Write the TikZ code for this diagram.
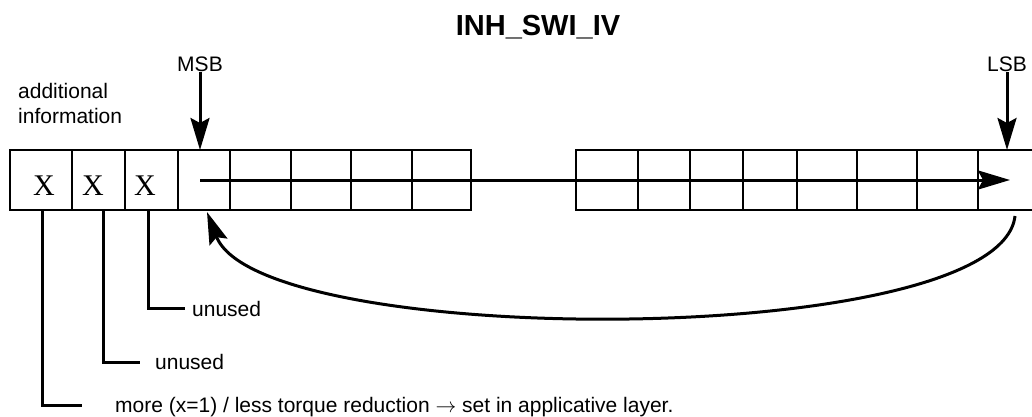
\documentclass[tikz,border=0pt]{standalone}
\usepackage{fontspec}
\setmainfont{Liberation Sans}
\newfontfamily\serifx{Liberation Serif}
\usetikzlibrary{arrows.meta}
\begin{document}
\begin{tikzpicture}[x=1pt,y=-1pt,
  cell/.style={draw, line width=2.5pt, minimum height=60pt, inner sep=0pt, outer sep=0pt},
  lbl/.style={font=\fontsize{21}{26}\selectfont, inner sep=0pt},
  xl/.style={font=\serifx\fontsize{30}{30}\selectfont, inner sep=0pt},
  arr/.style={line width=3pt, -{Stealth[length=32pt,width=19pt,inset=5pt]}},
  lead/.style={line width=3pt}]
\useasboundingbox (0,0) rectangle (1032,417);

% title
\node[font=\bfseries\fontsize{29}{30}\selectfont, inner sep=0pt, anchor=base] (title) at (538,36) {INH\_SWI\_IV};

% left group of cells
\foreach \a/\b [count=\i] in {10/72,72/125,125/178,178/230,230/291,291/351,351/412,412/471}{
  \pgfmathsetmacro{\w}{\b-\a}
  \pgfmathsetmacro{\m}{(\a+\b)/2}
  \node[cell, minimum width=\w pt] (c\i) at (\m,180) {};
}
% right group of cells
\foreach \a/\b [count=\i] in {576/638,638/690,690/743,743/797,797/857,857/917,917/978}{
  \pgfmathsetmacro{\w}{\b-\a}
  \pgfmathsetmacro{\m}{(\a+\b)/2}
  \node[cell, minimum width=\w pt] (d\i) at (\m,180) {};
}
\node[minimum width=54pt, minimum height=60pt, inner sep=0pt, outer sep=0pt] (last) at (1005,180) {};
\draw[line width=2.5pt] (last.north west) -- (last.north east) (last.south west) -- (last.south east);

% X marks
\node[xl, anchor=base] (x1) at (44,195) {X};
\node[xl, anchor=base] (x2) at (93,195) {X};
\node[xl, anchor=base] (x3) at (145,195) {X};

% labels
\node[lbl, anchor=base west] (add1) at (18,99) {additional};
\node[lbl, anchor=base west] (add2) at (18,124) {information};
\node[lbl, anchor=base] (msb) at (200,72) {MSB};
\node[lbl, anchor=base] (lsb) at (1007,72) {LSB};

% MSB / LSB arrows
\draw[arr] (msb.south) -- (msb.south |- c4.north);
\draw[arr] (lsb.south) -- (lsb.south |- last.north);

% horizontal arrow
\coordinate (hs) at (200,180);
\coordinate (he) at (1010,180);
\draw[arr] (hs) -- (he);

% return curve
\coordinate (cs) at (1015,216);
\coordinate (ce) at (207,212);
\draw[arr] (cs) .. controls (1000,350) and (260,350) .. (ce);

% leaders and texts
\node[lbl, anchor=base west] (t3) at (192,316) {unused};
\node[lbl, anchor=base west] (t2) at (155,369) {unused};
\node[lbl, anchor=base west] (t1) at (115,412) {more (x=1) / less torque reduction $\rightarrow$ set in applicative layer.};
\coordinate (e3) at (185,308);
\coordinate (e2) at (140,362);
\coordinate (e1) at (82,405);
\draw[lead] ([xshift=1pt]c1.south) |- (e1);
\draw[lead] ([xshift=4.5pt]c2.south) |- (e2);
\draw[lead] ([xshift=-3.5pt]c3.south) |- (e3);
\end{tikzpicture}
\end{document}
